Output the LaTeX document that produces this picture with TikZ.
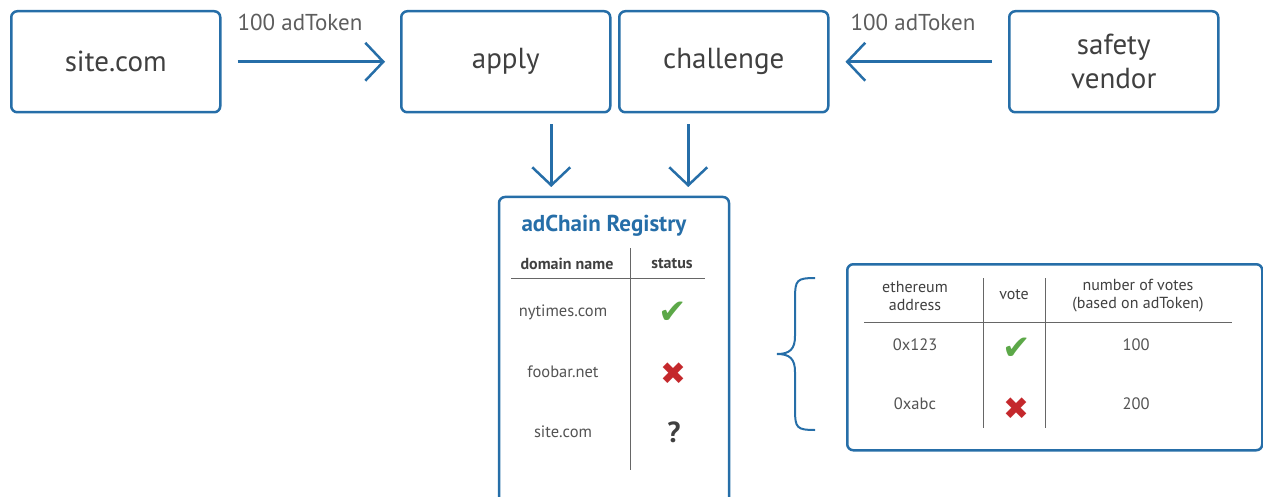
\documentclass[tikz,border=0pt]{standalone}
\usepackage{fontspec}
\setmainfont{PT Sans}
\newfontfamily\symfont{DejaVu Sans}
\usetikzlibrary{arrows.meta}
\definecolor{adblue}{RGB}{38,110,168}
\definecolor{txtgray}{RGB}{64,64,64}
\definecolor{okgreen}{RGB}{92,168,72}
\definecolor{badred}{RGB}{196,40,44}

\begin{document}
\begin{tikzpicture}[x=1pt, y=-1pt,
  box/.style={draw=adblue, line width=2.5pt, rounded corners=6pt,
    minimum width=209pt, minimum height=101pt, text=txtgray,
    font=\fontsize{29}{34}\selectfont, align=center, anchor=north west},
  arr/.style={draw=adblue, line width=2.5pt,
    -{Straight Barb[length=18pt, width=38pt, line width=2.5pt]}},
  token/.style={text=txtgray!85, font=\fontsize{23}{26}\selectfont},
  cell/.style={text=txtgray!90, font=\fontsize{16.5}{19}\selectfont, align=center},
  head/.style={text=txtgray, font=\fontsize{16}{18}\selectfont\bfseries, align=center},
  check/.style={text=okgreen, font=\symfont\fontsize{34}{36}\selectfont},
  cross/.style={text=badred, font=\symfont\fontsize{31}{34}\selectfont},
  rule/.style={draw=txtgray!80, line width=1pt}]
  \useasboundingbox (0,0) rectangle (1263,497);

  % top row
  \node[box] (site) at (10,10) {site.com};
  \node[box] (apply) at (400,10) {apply};
  \node[box] (challenge) at (618,10) {challenge};
  \node[box] (vendor) at (1008,10) {safety\\vendor};

  \draw[arr, shorten <=16pt, shorten >=15pt] (site) -- (apply);
  \draw[arr, shorten <=16pt, shorten >=16pt] (vendor) -- (challenge);
  \node[token] (tokA) at (300,22) {100 adToken};
  \node[token] (tokB) at (913,22) {100 adToken};

  % registry
  \coordinate (regtop) at (614,197);
  \draw[adblue, line width=2.5pt, rounded corners=6pt]
    (499,500) |- (regtop) -| (729,500);
  \draw[arr, shorten <=11pt, shorten >=10pt]
    ([xshift=45.5pt]apply.south) -- ([xshift=45.5pt]apply.south |- regtop);
  \draw[arr, shorten <=11pt, shorten >=10pt]
    ([xshift=-35.5pt]challenge.south) -- ([xshift=-35.5pt]challenge.south |- regtop);

  \node[text=adblue, font=\fontsize{23}{26}\selectfont\bfseries, anchor=west]
    (regtitle) at (518,226) {adChain Registry};
  \node[head] (hdomain) at (567,264) {domain name};
  \node[head] (hstatus) at (672,264) {status};
  \draw[rule] (511,278) -- (705,278);
  \draw[rule] (630,248) -- (630,470);
  \node[cell] (d1) at (563,312) {nytimes.com};
  \node[cell] (d2) at (563,372) {foobar.net};
  \node[cell] (d3) at (563,432) {site.com};
  \node[check] (s1) at (673,313) {✔};
  \node[cross] (s2) at (673,374) {✖};
  \node[text=txtgray, font=\fontsize{29}{30}\selectfont\bfseries] (s3) at (674,432) {?};

  % brace
  \draw[adblue, line width=2pt]
    (815,278) .. controls (797,278) and (795,280) .. (795,298) -- (795,336)
    .. controls (795,349) and (790,354) .. (777,354)
    .. controls (790,354) and (795,359) .. (795,372) -- (795,410)
    .. controls (795,428) and (797,430) .. (815,430);

  % votes
  \node[box, minimum width=415pt, minimum height=186pt] (votes) at (846,263) {};
  \node[head, font=\fontsize{16}{18}\selectfont] (haddr) at (915,296) {ethereum\\address};
  \node[head, font=\fontsize{16}{18}\selectfont] (hvote) at (1014,295) {vote};
  \node[head, font=\fontsize{16}{18}\selectfont] (hnum) at (1138,296) {number of votes\\(based on adToken)};
  \draw[rule] (864,322) -- (1232,322);
  \draw[rule] (983,278) -- (983,428);
  \draw[rule] (1045,278) -- (1045,428);
  \node[cell] (a1) at (915,345) {0x123};
  \node[cell] (a2) at (915,404) {0xabc};
  \node[check] (v1) at (1017,349) {✔};
  \node[cross] (v2) at (1016,409) {✖};
  \node[cell] (n1) at (1136,345) {100};
  \node[cell] (n2) at (1136,404) {200};
\end{tikzpicture}
\end{document}
